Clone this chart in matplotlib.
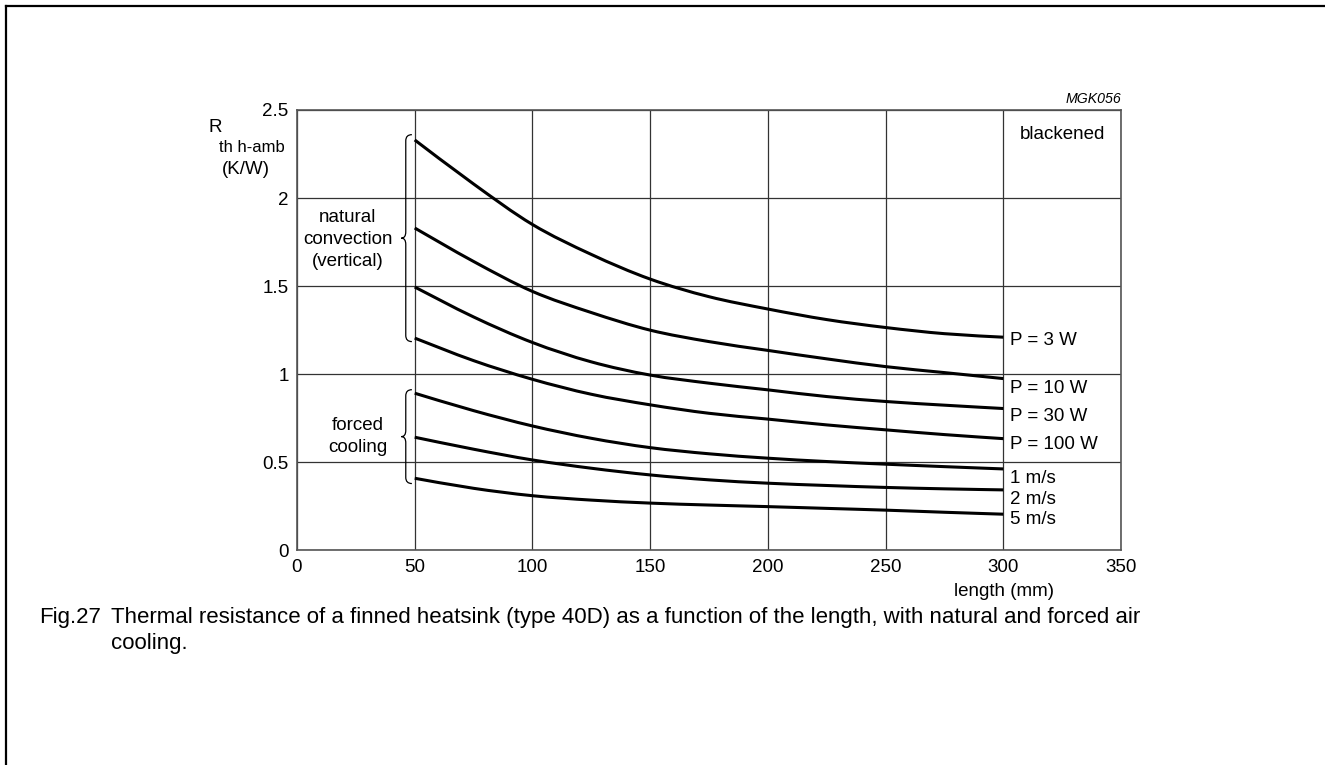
import numpy as np
import matplotlib
matplotlib.use("Agg")
import matplotlib.pyplot as plt
from matplotlib.path import Path
from matplotlib.patches import PathPatch
from matplotlib.lines import Line2D

plt.rcParams['font.family'] = ['Liberation Sans', 'DejaVu Sans']

# heatsink length (mm)
length = [50, 75, 100, 125, 150, 175, 200, 225, 250, 275, 300]

# thermal resistance heatsink-ambient (K/W)
p3w   = [2.33, 2.08, 1.85, 1.68, 1.54, 1.44, 1.37, 1.31, 1.265, 1.23, 1.21]
p10w  = [1.83, 1.64, 1.47, 1.35, 1.25, 1.185, 1.135, 1.087, 1.043, 1.009, 0.975]
p30w  = [1.495, 1.325, 1.18, 1.07, 0.995, 0.949, 0.911, 0.873, 0.845, 0.824, 0.805]
p100w = [1.205, 1.077, 0.971, 0.886, 0.826, 0.778, 0.745, 0.712, 0.684, 0.657, 0.634]
air1  = [0.892, 0.793, 0.706, 0.636, 0.583, 0.548, 0.523, 0.504, 0.489, 0.475, 0.462]
air2  = [0.642, 0.574, 0.513, 0.466, 0.428, 0.40, 0.381, 0.368, 0.357, 0.349, 0.343]
air5  = [0.409, 0.352, 0.31, 0.285, 0.268, 0.257, 0.248, 0.238, 0.228, 0.216, 0.205]

natural = [p3w, p10w, p30w, p100w]
forced = [air1, air2, air5]

curve_labels = ['P = 3 W', 'P = 10 W', 'P = 30 W', 'P = 100 W', '1 m/s', '2 m/s', '5 m/s']
label_y = [1.19, 0.92, 0.76, 0.603, 0.408, 0.291, 0.174]

W, H = 1325, 765
fig = plt.figure(figsize=(W / 100, H / 100), dpi=100)

def fx(px):
    return px / W

def fy(py):
    return 1 - py / H

ax = fig.add_axes([fx(297), fy(550.3), fx(1121) - fx(297), fy(110) - fy(550.3)])


def smooth_path(xs, ys):
    # Catmull-Rom through the points, written as cubic bezier segments
    pts = np.column_stack([xs, ys]).astype(float)
    n = len(pts)
    verts = [pts[0]]
    codes = [Path.MOVETO]
    for i in range(n - 1):
        p0 = pts[i - 1] if i > 0 else pts[i]
        p1, p2 = pts[i], pts[i + 1]
        p3 = pts[i + 2] if i + 2 < n else pts[i + 1]
        c1 = p1 + (p2 - p0) / 6
        c2 = p2 - (p3 - p1) / 6
        verts += [c1, c2, p2]
        codes += [Path.CURVE4] * 3
    return Path(verts, codes)


for ys in natural + forced:
    ax.add_patch(PathPatch(smooth_path(length, ys), fill=False, lw=2.2,
                           edgecolor='black', capstyle='butt', zorder=3))

ax.set_xlim(0, 350)
ax.set_ylim(0, 2.5)
ax.set_xticks(range(0, 351, 50))
ax.set_xticklabels(['0', '50', '100', '150', '200', '250', '300', '350'])
ax.set_yticks([0, 0.5, 1, 1.5, 2, 2.5])
ax.set_yticklabels(['0', '0.5', '1', '1.5', '2', '2.5'])
ax.tick_params(length=0, labelsize=13.5, pad=6)
ax.grid(True, color='#333333', lw=0.9)
for s in ax.spines.values():
    s.set_color('#555555')
    s.set_linewidth(1.2)

for lab, y in zip(curve_labels, label_y):
    ax.text(303, y, lab, fontsize=13.5, va='center', ha='left')

ax.text(325, 2.36, 'blackened', fontsize=13.5, ha='center', va='center')


def brace(ax, x, y0, y1, hw=2.6, tw=1.9, r=0.035):
    ym = (y0 + y1) / 2
    verts = [(x + hw, y1), (x, y1), (x, y1 - r),
             (x, ym + r), (x, ym), (x - tw, ym),
             (x, ym), (x, ym - r),
             (x, y0 + r), (x, y0), (x + hw, y0)]
    codes = [Path.MOVETO, Path.CURVE3, Path.CURVE3,
             Path.LINETO, Path.CURVE3, Path.CURVE3,
             Path.CURVE3, Path.CURVE3,
             Path.LINETO, Path.CURVE3, Path.CURVE3]
    ax.add_patch(PathPatch(Path(verts, codes), fill=False, lw=0.9,
                           edgecolor='black', zorder=4, clip_on=False))

starts_nat = [c[0] for c in natural]
starts_for = [c[0] for c in forced]
brace(ax, 46.2, min(starts_nat) - 0.02, max(starts_nat) + 0.03)
brace(ax, 46.2, min(starts_for) - 0.03, max(starts_for) + 0.02)

ax.text(21.5, 1.765, 'natural\nconvection\n(vertical)', fontsize=13.5,
        ha='center', va='center', linespacing=1.38)
ax.text(26, 0.645, 'forced\ncooling', fontsize=13.5,
        ha='center', va='center', linespacing=1.38)

ax.text(1.0, 1.01, 'MGK056', transform=ax.transAxes, fontsize=10.2,
        style='italic', ha='right', va='bottom')

# axis titles
fig.text(fx(222), fy(127), 'R', fontsize=13.5, ha='right', va='center')
fig.text(fx(285), fy(147), 'th h-amb', fontsize=12, ha='right', va='center')
fig.text(fx(246), fy(170), '(K/W)', fontsize=13.5, ha='center', va='center')
fig.text(fx(1004), fy(592), 'length (mm)', fontsize=13.5, ha='center', va='center')

# caption
cap_size = 16
fig.text(fx(39), fy(617), 'Fig.27', fontsize=cap_size, ha='left', va='center')
fig.text(fx(111), fy(617), 'Thermal resistance of a finned heatsink (type 40D) as a function '
         'of the length, with natural and forced air', fontsize=cap_size, ha='left', va='center')
fig.text(fx(111), fy(644), 'cooling.', fontsize=cap_size, ha='left', va='center')

# page frame
fig.add_artist(Line2D([fx(5.5), fx(5.5)], [0, fy(5.5)], transform=fig.transFigure,
                      color='black', lw=1.6))
fig.add_artist(Line2D([fx(5.5), 1], [fy(5.5), fy(5.5)], transform=fig.transFigure,
                      color='black', lw=1.6))

fig.savefig('out.png', dpi=100)
